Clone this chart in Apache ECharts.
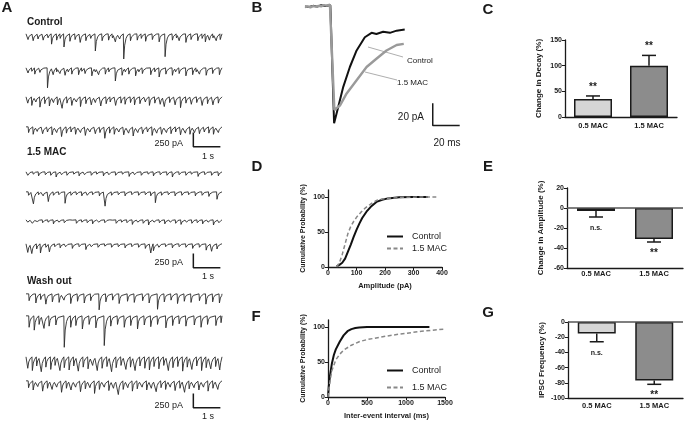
<!DOCTYPE html>
<html lang="en">
<head>
  <meta charset="UTF-8">
  <title>IPSC figure</title>
  <style>body{margin:0;background:#fff}</style>
</head>
<body>
  <div id="main" style="width:689px;height:421px"></div>
  <script src="https://cdn.jsdelivr.net/npm/echarts/dist/echarts.min.js"></script>
  <script>
    var myChart = echarts.init(document.getElementById('main'))
    var FONT = '"Liberation Sans", Arial, sans-serif'
    var INK = '#1a1a1a'

    // A: spontaneous IPSC traces, events as [time s, amplitude pA]
    var ctl1 = [[0.06,100],[0.25,120],[0.43,90],[0.62,110],[0.80,70],[0.93,180],[1.12,110],[1.25,80],[1.39,230],[1.61,130],[1.80,100],[1.99,150],[2.20,120],[2.38,80],[2.55,300],[2.80,120],[3.04,110],[3.18,70],[3.29,140],[3.45,90],[3.60,440],[3.85,120],[4.10,110],[4.25,80],[4.41,130],[4.66,100],[4.91,140],[5.13,400],[5.40,110],[5.55,70],[5.65,120],[5.90,150],[6.09,100],[6.34,120],[6.50,80],[6.62,140],[6.77,110],[6.90,70],[7.02,120],[7.17,100]]
    var ctl2 = [[0.06,90],[0.20,60],[0.31,110],[0.50,80],[0.78,350],[0.99,120],[1.12,70],[1.24,100],[1.43,130],[1.55,70],[1.68,110],[1.93,120],[2.05,60],[2.17,100],[2.42,140],[2.55,70],[2.67,120],[2.92,110],[3.05,70],[3.29,230],[3.54,130],[3.66,70],[3.79,110],[4.04,140],[4.16,70],[4.29,100],[4.60,120],[4.75,70],[4.91,160],[5.16,110],[5.40,130],[5.52,70],[5.65,100],[5.90,140],[6.15,120],[6.28,70],[6.40,110],[6.65,130],[6.89,100],[7.14,120]]
    var ctl3 = [[0.05,110],[0.20,150],[0.35,90],[0.50,180],[0.68,120],[0.85,160],[1.00,100],[1.15,140],[1.32,200],[1.50,110],[1.68,150],[1.85,90],[2.00,170],[2.20,120],[2.40,140],[2.55,100],[2.75,160],[2.95,120],[3.10,90],[3.30,150],[3.50,110],[3.65,130],[3.85,100],[4.00,140],[4.20,120],[4.40,90],[4.55,150],[4.75,110],[4.95,130],[5.10,170],[5.30,100],[5.50,140],[5.70,190],[5.90,110],[6.10,130],[6.30,100],[6.50,150],[6.70,120],[6.90,140],[7.10,110]]
    var ctl4 = [[0.08,100],[0.25,130],[0.40,80],[0.60,120],[0.78,90],[0.95,140],[1.12,100],[1.30,170],[1.48,110],[1.65,90],[1.82,130],[2.00,100],[2.18,150],[2.35,90],[2.55,120],[2.72,100],[2.90,200],[3.08,110],[3.25,130],[3.42,90],[3.60,140],[3.78,110],[3.95,160],[4.12,100],[4.30,120],[4.48,90],[4.65,150],[4.82,110],[5.00,130],[5.18,100],[5.35,120],[5.52,90],[5.70,140],[5.88,110],[6.05,130],[6.22,100],[6.40,120],[6.58,90],[6.75,110],[6.92,130],[7.10,100]]
    var mac1 = [[0.05,60],[0.25,40],[0.45,70],[0.70,50],[0.90,60],[1.10,90],[1.30,50],[1.50,60],[1.75,40],[1.95,70],[2.15,50],[2.40,60],[2.60,40],[2.85,70],[3.05,50],[3.30,60],[3.55,40],[3.80,80],[4.00,50],[4.25,60],[4.50,40],[4.70,70],[4.95,50],[5.20,60],[5.40,90],[5.65,50],[5.90,60],[6.10,40],[6.35,80],[6.60,50],[6.85,60],[7.10,70]]
    var mac2 = [[0.08,60],[0.26,210],[0.45,50],[0.62,70],[0.81,170],[1.00,60],[1.20,50],[1.43,200],[1.65,60],[1.85,50],[2.05,70],[2.25,60],[2.45,50],[2.70,70],[2.91,250],[3.15,60],[3.40,50],[3.65,70],[3.90,50],[4.15,60],[4.40,50],[4.60,70],[4.77,190],[5.00,60],[5.25,50],[5.50,70],[5.75,60],[6.00,50],[6.25,70],[6.50,60],[6.75,80],[7.05,130]]
    var mac3 = [[0.05,40],[0.22,60],[0.40,30],[0.60,50],[0.80,40],[1.00,70],[1.20,40],[1.40,50],[1.62,30],[1.85,60],[2.05,40],[2.25,50],[2.45,70],[2.68,40],[2.90,50],[3.10,30],[3.32,60],[3.52,40],[3.72,50],[3.92,80],[4.12,40],[4.32,60],[4.52,90],[4.72,40],[4.92,50],[5.12,70],[5.32,40],[5.52,60],[5.72,80],[5.92,40],[6.12,60],[6.32,50],[6.52,70],[6.72,40],[6.92,90],[7.12,50]]
    var mac4 = [[0.05,150],[0.20,170],[0.38,90],[0.52,160],[0.72,60],[0.85,140],[1.05,50],[1.25,70],[1.45,50],[1.70,80],[1.95,50],[2.20,100],[2.40,50],[2.65,60],[2.90,40],[3.15,60],[3.40,50],[3.65,70],[3.90,50],[4.15,60],[4.40,80],[4.60,160],[4.70,120],[4.90,60],[5.15,50],[5.40,70],[5.65,50],[5.90,60],[6.15,80],[6.40,60],[6.65,110],[6.85,130],[7.05,90]]
    var wash1 = [[0.10,120],[0.35,160],[0.53,100],[0.72,180],[0.96,140],[1.21,150],[1.39,110],[1.64,170],[1.89,130],[2.14,160],[2.38,120],[2.69,280],[2.94,140],[3.19,110],[3.43,170],[3.74,130],[3.99,150],[4.30,120],[4.54,160],[4.85,270],[5.10,140],[5.35,110],[5.59,170],[5.84,130],[6.09,150],[6.40,120],[6.64,180],[6.89,140],[7.14,160]]
    var wash2 = [[0.10,200],[0.29,250],[0.47,150],[0.65,220],[0.84,180],[1.09,160],[1.40,550],[1.64,200],[1.83,170],[2.07,230],[2.32,150],[2.57,210],[2.88,520],[3.12,180],[3.37,150],[3.62,200],[3.86,170],[4.11,230],[4.36,160],[4.60,190],[4.85,150],[5.16,210],[5.41,170],[5.65,140],[5.90,180],[6.21,160],[6.46,200],[6.70,150],[7.01,170],[7.20,120]]
    var wash3 = [[0.05,200],[0.22,240],[0.38,160],[0.55,260],[0.72,180],[0.90,220],[1.06,150],[1.24,240],[1.40,190],[1.58,230],[1.75,160],[1.92,250],[2.10,180],[2.28,210],[2.45,150],[2.62,240],[2.80,200],[2.98,170],[3.15,260],[3.32,190],[3.50,150],[3.68,220],[3.85,180],[4.02,240],[4.20,160],[4.38,200],[4.55,230],[4.72,170],[4.90,210],[5.08,150],[5.25,240],[5.42,190],[5.60,170],[5.78,250],[5.95,180],[6.12,220],[6.30,160],[6.48,240],[6.65,190],[6.82,210],[7.00,170],[7.15,230]]
    var wash4 = [[0.08,120],[0.25,160],[0.42,100],[0.60,180],[0.78,130],[0.95,150],[1.12,110],[1.30,200],[1.48,130],[1.65,160],[1.82,110],[2.00,190],[2.18,140],[2.35,120],[2.52,220],[2.70,150],[2.88,110],[3.05,170],[3.22,130],[3.40,240],[3.58,150],[3.75,120],[3.92,180],[4.10,140],[4.28,110],[4.45,160],[4.62,130],[4.80,190],[4.98,120],[5.15,150],[5.32,110],[5.50,170],[5.68,130],[5.85,200],[6.02,140],[6.20,120],[6.38,160],[6.55,110],[6.72,180],[6.90,130],[7.08,150]]
    var traces = [ctl1, ctl2, ctl3, ctl4, mac1, mac2, mac3, mac4, wash1, wash2, wash3, wash4]
    var traceTops = [34, 68, 97, 127, 172, 192, 220, 244, 294, 316, 357, 381]
    var scaleBarA = { pA: 250, s: 1 }
    var scaleBarFrom = [100, 170, 220] // pA below baseline where each bar starts

    // B: averaged IPSC, [ms, pA]
    var avgControl = [[0,-1],[3,-1.5],[6,-0.5],[9,-1.2],[12,0],[15,-0.6],[18.8,0],[21.6,-107],[24.7,-92],[28.4,-74],[33.3,-56],[38.3,-41],[44.4,-29],[49.4,-25],[53,-26],[58,-24],[63,-25],[68,-23],[74,-22]]
    var avg15MAC = [[0,-1.5],[2,-1],[4,-1.8],[6,-0.8],[8,-1.2],[10,-0.5],[12,-0.9],[14,0.2],[16,-0.3],[18.5,0.5],[21.8,-95],[25.9,-91],[30.9,-80],[38.3,-68],[45.7,-56],[53,-48.5],[60.5,-41],[68,-36],[73.3,-35]]
    var scaleBarB = { pA: 20, ms: 20 }

    // C, E, G: percent change
    var groups = ['0.5 MAC', '1.5 MAC']
    var decayMean = [35, 100], decayErr = [41, 120], decaySig = ['**', '**']
    var ampMean = [-3, -31], ampErr = [-9, -34], ampSig = ['n.s.', '**']
    var freqMean = [-15, -77], freqErr = [-26, -82], freqSig = ['n.s.', '**']

    // D, F: cumulative probability
    var ctlAmpX = [30, 40, 50, 60, 70, 80, 90, 100, 110, 120, 135, 150, 170, 190, 210, 250, 300, 350]
    var ctlAmpY = [1, 3, 6, 12, 22, 32, 43, 53, 62, 70, 79, 86, 93, 96, 98, 99.5, 100, 100]
    var macAmpX = [30, 40, 50, 60, 70, 80, 90, 100, 115, 130, 150, 170, 190, 220, 260, 320, 380]
    var macAmpY = [0, 6, 18, 33, 48, 58, 65, 71, 78, 84, 90, 95, 97, 98.5, 99.5, 100, 100]
    var ctlIntX = [0, 10, 25, 50, 75, 100, 150, 200, 250, 300, 350, 400, 500, 700, 1000, 1300]
    var ctlIntY = [0, 15, 30, 48, 60, 68, 79, 88, 94, 97, 98.5, 99.3, 100, 100, 100, 100]
    var macIntX = [0, 10, 25, 50, 100, 150, 200, 300, 400, 500, 600, 800, 1000, 1200, 1500]
    var macIntY = [0, 10, 22, 38, 53, 61, 67, 74, 79, 82, 84, 88, 91, 94, 97]

    function traceData(ev) {
      var pts = [[0, 0]]
      for (var i = 0; i < ev.length; i++) {
        var t = ev[i][0], a = ev[i][1]
        var next = i < ev.length - 1 ? ev[i + 1][0] : 7.25
        pts.push([t, 0], [t + 0.015, -a])
        ;[[0.05, 0.45], [0.1, 0.18], [0.16, 0.05]].forEach(function (k) {
          if (t + k[0] < next - 0.01) pts.push([t + k[0], -a * k[1]])
        })
      }
      pts.push([7.25, 0])
      return pts
    }
    function zip(xs, ys) { return xs.map(function (x, i) { return [x, ys[i]] }) }

    var grid = [], xAxis = [], yAxis = [], series = []
    function hiddenAxes(xr, yr) {
      xAxis.push({ type: 'value', gridIndex: grid.length - 1, min: xr[0], max: xr[1], show: false })
      yAxis.push({ type: 'value', gridIndex: grid.length - 1, min: yr[0], max: yr[1], show: false })
    }

    // A grids
    traces.forEach(function (ev, i) {
      grid.push({ left: 26, top: traceTops[i] - 3, width: 196, height: 40 })
      hiddenAxes([0, 7.25], [-650, 50])
      series.push({ type: 'line', xAxisIndex: i, yAxisIndex: i, data: traceData(ev), showSymbol: false, symbol: 'none',
        lineStyle: { color: '#2a2a2a', width: 0.9 }, silent: true })
      if (i % 4 === 3) {
        var b = scaleBarFrom[(i - 3) / 4]
        series.push({ type: 'line', xAxisIndex: i, yAxisIndex: i, symbol: 'none', silent: true,
          data: [[6.19, -b], [6.19, -b - scaleBarA.pA], [6.19 + scaleBarA.s, -b - scaleBarA.pA]],
          lineStyle: { color: INK, width: 1.5 } })
      }
    })

    // B grid (index 12)
    grid.push({ left: 305, top: 2, width: 159, height: 130 })
    hiddenAxes([0, 118], [-115, 3])
    series.push({ type: 'line', xAxisIndex: 12, yAxisIndex: 12, data: avgControl, symbol: 'none', silent: true, lineStyle: { color: '#111', width: 2 } })
    series.push({ type: 'line', xAxisIndex: 12, yAxisIndex: 12, data: avg15MAC, symbol: 'none', silent: true, lineStyle: { color: '#9a9a9a', width: 2.4 } })
    series.push({ type: 'line', xAxisIndex: 12, yAxisIndex: 12, symbol: 'none', silent: true, lineStyle: { color: INK, width: 1.5 },
      data: [[94.8, -89], [94.8, -89 - scaleBarB.pA], [94.8 + scaleBarB.ms, -89 - scaleBarB.pA]] })

    var axisLab = { color: INK, fontSize: 7, fontWeight: 'bold', fontFamily: FONT, margin: 3,
      formatter: function (v) { return String(v) } }
    var axLine = { show: true, lineStyle: { color: INK, width: 1.3 } }
    var axTick = { show: true, length: 3, lineStyle: { color: INK, width: 1 } }

    function barPanel(gi, box, ymin, ymax, step, name, means, errs, sigs, zeroLine, labMargin) {
      grid.push(box)
      xAxis.push({ type: 'category', gridIndex: gi, data: groups, axisLine: { show: true, onZero: false, lineStyle: { color: INK, width: 1.3 } },
        axisTick: { show: false }, axisLabel: { color: INK, fontSize: 7.5, fontWeight: 'bold', fontFamily: FONT, margin: labMargin } })
      yAxis.push({ type: 'value', gridIndex: gi, min: ymin, max: ymax, interval: step, splitLine: { show: false },
        axisLine: axLine, axisTick: axTick, axisLabel: axisLab, name: name, nameLocation: 'middle', nameGap: 22,
        nameTextStyle: { color: INK, fontSize: 8, fontWeight: 'bold', fontFamily: FONT } })
      var bar = { type: 'bar', xAxisIndex: gi, yAxisIndex: gi, barWidth: 38, silent: true,
        data: means.map(function (v, i) {
          return { value: v, itemStyle: { color: i === 0 ? '#d6d6d6' : '#8c8c8c', borderColor: INK, borderWidth: 1.5 } }
        }) }
      if (zeroLine) bar.markLine = { silent: true, symbol: 'none', label: { show: false },
        lineStyle: { color: '#555', width: 1.5, type: 'solid' }, data: [{ yAxis: 0 }] }
      series.push(bar)
      series.push({ type: 'custom', xAxisIndex: gi, yAxisIndex: gi, silent: true, z: 5,
        data: means.map(function (v, i) { return [i, v, errs[i]] }),
        renderItem: function (params, api) {
          var i = params.dataIndex
          var p0 = api.coord([api.value(0), api.value(1)])
          var p1 = api.coord([api.value(0), api.value(2)])
          var out = api.value(2) > api.value(1) ? -9 : 11
          return { type: 'group', children: [
            { type: 'line', shape: { x1: p0[0], y1: p0[1], x2: p1[0], y2: p1[1] }, style: { stroke: INK, lineWidth: 1.5 } },
            { type: 'line', shape: { x1: p1[0] - 7, y1: p1[1], x2: p1[0] + 7, y2: p1[1] }, style: { stroke: INK, lineWidth: 1.5 } },
            { type: 'text', x: p1[0], y: p1[1] + out, style: { text: sigs[i], align: 'center', verticalAlign: 'middle',
              font: (sigs[i] === '**' ? 'bold 10px ' : 'bold 7px ') + FONT, fill: INK } }
          ] }
        } })
    }

    function cumPanel(gi, box, xmax, xint, xname, lines) {
      grid.push(box)
      xAxis.push({ type: 'value', gridIndex: gi, min: 0, max: xmax, interval: xint, splitLine: { show: false },
        axisLine: axLine, axisTick: axTick, axisLabel: axisLab, name: xname, nameLocation: 'middle', nameGap: 15,
        nameTextStyle: { color: INK, fontSize: 7.5, fontWeight: 'bold', fontFamily: FONT } })
      yAxis.push({ type: 'value', gridIndex: gi, min: 0, max: 110, interval: 50, splitLine: { show: false },
        axisLine: axLine, axisTick: axTick, axisLabel: Object.assign({ showMaxLabel: false }, axisLab),
        name: 'Cumulative Probability (%)', nameLocation: 'middle', nameGap: 21,
        nameTextStyle: { color: INK, fontSize: 7, fontWeight: 'bold', fontFamily: FONT } })
      series.push({ name: 'Control', type: 'line', xAxisIndex: gi, yAxisIndex: gi, data: lines[0], symbol: 'none', silent: true,
        lineStyle: { color: '#111', width: 2 }, itemStyle: { color: '#111' } })
      series.push({ name: '1.5 MAC', type: 'line', xAxisIndex: gi, yAxisIndex: gi, data: lines[1], symbol: 'none', silent: true,
        lineStyle: { color: '#888', width: 1.5, type: [4, 2.5] }, itemStyle: { color: '#888' } })
    }

    // C 13, D 14, E 15, F 16, G 17
    barPanel(13, { left: 565, top: 40, width: 112, height: 77 }, 0, 150, 50, 'Change in Decay (%)', decayMean, decayErr, decaySig, false, 5)
    cumPanel(14, { left: 328, top: 190, width: 114, height: 77 }, 400, 100, 'Amplitude (pA)', [zip(ctlAmpX, ctlAmpY), zip(macAmpX, macAmpY)])
    barPanel(15, { left: 567, top: 188, width: 116, height: 80 }, -60, 20, 20, 'Change in Amplitude (%)', ampMean, ampErr, ampSig, true, 2)
    cumPanel(16, { left: 328, top: 320, width: 117, height: 77 }, 1500, 500, 'Inter-event interval (ms)', [zip(ctlIntX, ctlIntY), zip(macIntX, macIntY)])
    barPanel(17, { left: 568, top: 322, width: 115, height: 76 }, -100, 0, 20, 'IPSC Frequency (%)', freqMean, freqErr, freqSig, true, 4)

    function legendAt(left, top, gap) {
      return { left: left, top: top, padding: 0, orient: 'vertical', itemWidth: 16, itemHeight: 8, itemGap: gap, selectedMode: false,
        itemStyle: { opacity: 0 },
        data: ['Control', '1.5 MAC'], textStyle: { color: INK, fontSize: 9, fontFamily: FONT, padding: [0, 0, 0, 4] } }
    }

    function txt(x, y, s, font, align) {
      return { type: 'text', x: x, y: y, silent: true,
        style: { text: s, font: font, fill: INK, align: align || 'left', verticalAlign: 'middle' } }
    }
    var big = 'bold 15px ' + FONT, head = 'bold 10px ' + FONT, small = '9px ' + FONT
    var graphic = [
      txt(7, 8, 'A', big, 'center'), txt(257, 8, 'B', big, 'center'), txt(488, 10, 'C', big, 'center'),
      txt(257, 167, 'D', big, 'center'), txt(488, 167, 'E', big, 'center'),
      txt(256, 317, 'F', big, 'center'), txt(488, 313, 'G', big, 'center'),
      txt(27, 22, 'Control', head), txt(27, 152, '1.5 MAC', head), txt(27, 281, 'Wash out', head),
      txt(183, 144, '250 pA', small, 'right'), txt(208, 157, '1 s', small, 'center'),
      txt(183, 263, '250 pA', small, 'right'), txt(208, 277, '1 s', small, 'center'),
      txt(183, 406, '250 pA', small, 'right'), txt(208, 417, '1 s', small, 'center'),
      txt(424, 117, '20 pA', '10px ' + FONT, 'right'), txt(447, 143, '20 ms', '10px ' + FONT, 'center'),
      txt(407, 61, 'Control', '8px ' + FONT), txt(397, 83, '1.5 MAC', '8px ' + FONT),
      { type: 'line', silent: true, shape: { x1: 368, y1: 47, x2: 403, y2: 57 }, style: { stroke: '#999', lineWidth: 0.8 } },
      { type: 'line', silent: true, shape: { x1: 365, y1: 72, x2: 397, y2: 80 }, style: { stroke: '#999', lineWidth: 0.8 } }
    ]

    var options = {
      backgroundColor: '#fff',
      animation: false,
      grid: grid,
      xAxis: xAxis,
      yAxis: yAxis,
      legend: [legendAt(386, 232, 3), legendAt(386, 366, 8)],
      graphic: graphic,
      series: series
    }
    myChart.setOption(options)
  </script>
</body>
</html>
